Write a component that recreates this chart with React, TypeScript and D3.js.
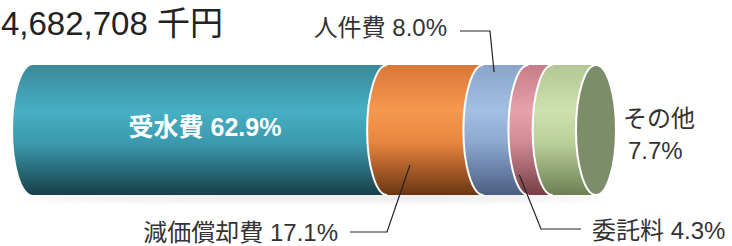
import React from 'react';
import * as d3 from 'd3';

// 費用構成（%）
const categories = ['受水費', '減価償却費', '人件費', '委託料', 'その他'];
const shares = [62.9, 17.1, 8.0, 4.3, 7.7];
const totalLabel = '4,682,708 千円';

// 色: [上, ハイライト, 中, 下]
const palette: string[][] = [
  ['#3a8898', '#47afc4', '#3c99ad', '#173f49'],
  ['#d9773a', '#f7984f', '#e6853f', '#6a3512'],
  ['#8ba4c9', '#a5bfe4', '#8ca7d0', '#4b5e82'],
  ['#c67d87', '#e6a2ab', '#d08a93', '#763d46'],
  ['#b1c794', '#cfe1ae', '#bad099', '#6c7f54'],
];
const capColor = '#7c8d69';

const W = 732;
const H = 246;
const top = 65;
const bottom = 195;
const rx = 20;
const ry = (bottom - top) / 2;
const cy = top + ry;

const font = '"Liberation Sans", Arial, "Noto Sans CJK JP", sans-serif';

const App: React.FC = () => {
  const x = d3.scaleLinear().domain([0, 100]).range([33, 596]);
  const cum = d3.cumsum(shares);
  const starts = shares.map((s, i) => cum[i] - s);

  const segPath = (a: number, b: number) => {
    const x0 = x(a);
    const x1 = x(b);
    return `M${x0},${top} L${x1},${top} A${rx},${ry} 0 0 0 ${x1},${bottom} L${x0},${bottom} A${rx},${ry} 0 0 1 ${x0},${top} Z`;
  };
  const arcPath = (a: number) => {
    const x0 = x(a);
    return `M${x0},${top} A${rx},${ry} 0 0 0 ${x0},${bottom}`;
  };
  // 円柱表面上の点
  const surfaceX = (v: number, y: number) => {
    const dy = (y - cy) / ry;
    return x(v) - rx * Math.sqrt(Math.max(0, 1 - dy * dy));
  };

  const mid = (i: number) => starts[i] + shares[i] / 2;

  const p1 = { x: surfaceX(mid(1) - 1.5, 165), y: 165 };
  const p2 = { x: surfaceX(mid(2) - 0.5, 72), y: 72 };
  const p3 = { x: surfaceX(mid(3) - 1.2, 175), y: 175 };

  const lbl = { fontFamily: font, fontSize: 24, fill: '#333' };

  return (
    <svg width={W} height={H} style={{ position: 'absolute', left: 0, top: 0 }}>
      <defs>
        {palette.map((c, i) => (
          <linearGradient key={i} id={`g${i}`} x1="0" y1="0" x2="0" y2="1">
            <stop offset="0%" stopColor={c[0]} />
            <stop offset="35%" stopColor={c[1]} />
            <stop offset="60%" stopColor={c[2]} />
            <stop offset="100%" stopColor={c[3]} />
          </linearGradient>
        ))}
        <filter id="sh" x="-10%" y="-10%" width="120%" height="140%">
          <feGaussianBlur stdDeviation="3" />
        </filter>
      </defs>

      <text x={1} y={35} style={{ fontFamily: font, fontSize: 33, fill: '#222' }}>
        {totalLabel}
      </text>

      <ellipse cx={(x(0) + x(100)) / 2} cy={bottom + 3} rx={(x(100) - x(0)) / 2 + 10} ry={4} fill="#000" opacity={0.08} filter="url(#sh)" />

      {shares.map((s, i) => (
        <path key={categories[i]} d={segPath(starts[i], cum[i])} fill={`url(#g${i})`} />
      ))}
      {shares.map((s, i) =>
        i > 0 ? <path key={`a${i}`} d={arcPath(starts[i])} fill="none" stroke="#fff" strokeWidth={2} /> : null
      )}
      <ellipse cx={x(100)} cy={cy} rx={rx} ry={ry} fill={capColor} stroke="#fff" strokeWidth={2} />

      <text x={205} y={136} textAnchor="middle"
        style={{ fontFamily: font, fontSize: 25, fontWeight: 'bold', fill: '#fff' }}>
        {`${categories[0]} ${shares[0].toFixed(1)}%`}
      </text>

      <polyline points={`350,232 387,232 ${p1.x},${p1.y}`} fill="none" stroke="#222" strokeWidth={1.2} />
      <text x={338} y={241} textAnchor="end" style={lbl}>{`${categories[1]} ${shares[1].toFixed(1)}%`}</text>

      <polyline points={`460,31 490,31 ${p2.x},${p2.y}`} fill="none" stroke="#222" strokeWidth={1.2} />
      <text x={447} y={36} textAnchor="end" style={lbl}>{`${categories[2]} ${shares[2].toFixed(1)}%`}</text>

      <polyline points={`${p3.x},${p3.y} 541,229 581,229`} fill="none" stroke="#222" strokeWidth={1.2} />
      <text x={592} y={239} style={lbl}>{`${categories[3]} ${shares[3].toFixed(1)}%`}</text>

      <text x={623} y={127} style={lbl}>{categories[4]}</text>
      <text x={628} y={159} style={lbl}>{`${shares[4].toFixed(1)}%`}</text>
    </svg>
  );
};

export default App;
